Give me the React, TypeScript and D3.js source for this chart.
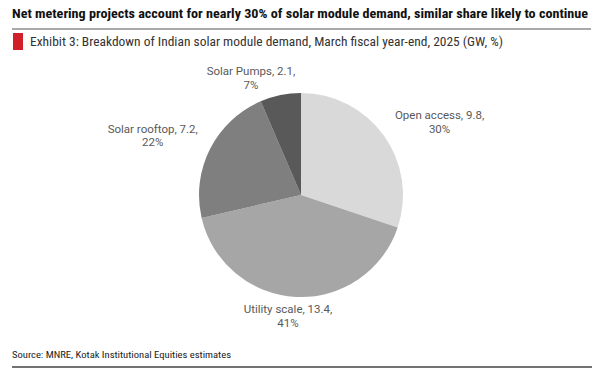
import React from "react";
import * as d3 from "d3";

const categories = ["Open access", "Utility scale", "Solar rooftop", "Solar Pumps"];
const values = [9.8, 13.4, 7.2, 2.1];
const shares = ["30%", "41%", "22%", "7%"];
const colors = ["#d9d9d9", "#a6a6a6", "#7f7f7f", "#595959"];
// label placement: distance from centre and angular nudge (layout only)
const labelRadius = [157, 121, 160, 128];
const labelAngleShift = [7.7, 3.4, -4.8, -11.4];

const W = 600;
const H = 377;
const cx = 301;
const cy = 195;
const R = 102;

export default function App() {
  const pie = d3.pie<number>().sort(null).value((d) => d)(values);
  const arc = d3.arc<d3.PieArcDatum<number>>().innerRadius(0).outerRadius(R);
  const font = "Roboto, 'Liberation Sans', Arial, sans-serif";
  const narrow = "'Liberation Sans Narrow', 'Roboto Condensed', Roboto, Arial, sans-serif";

  return (
    <svg width={W} height={H} style={{ position: "absolute", left: 0, top: 0, background: "#fff" }}>
      <text x={12} y={18} fontFamily={narrow} fontWeight="bold" fontSize={13.5} fill="#111"
        textLength={576} lengthAdjust="spacingAndGlyphs">
        Net metering projects account for nearly 30% of solar module demand, similar share likely to continue
      </text>
      <line x1={12} x2={591} y1={29} y2={29} stroke="#555" strokeWidth={1} />
      <rect x={13} y={33} width={10} height={17} fill="#d0202a" />
      <text x={30} y={46} fontFamily={narrow} fontSize={13} fill="#333"
        textLength={473} lengthAdjust="spacingAndGlyphs">
        Exhibit 3: Breakdown of Indian solar module demand, March fiscal year-end, 2025 (GW, %)
      </text>

      <g transform={`translate(${cx},${cy})`}>
        {pie.map((p, i) => (
          <path key={i} d={arc(p) || ""} fill={colors[i]} />
        ))}
        {pie.map((p, i) => {
          const mid = (p.startAngle + p.endAngle) / 2 + (labelAngleShift[i] * Math.PI) / 180;
          const x = Math.sin(mid) * labelRadius[i];
          const y = -Math.cos(mid) * labelRadius[i];
          return (
            <text key={"l" + i} x={x} y={y} textAnchor="middle" fontFamily={font} fontSize={11.5} fill="#595959">
              <tspan x={x} dy={-2}>{`${categories[i]}, ${values[i]},`}</tspan>
              <tspan x={x} dy={13.5}>{shares[i]}</tspan>
            </text>
          );
        })}
      </g>

      <text x={12} y={358} fontFamily={narrow} fontSize={9.5} fill="#222"
        textLength={219} lengthAdjust="spacingAndGlyphs">
        Source: MNRE, Kotak Institutional Equities estimates
      </text>
      <line x1={12} x2={592} y1={367} y2={367} stroke="#444" strokeWidth={1.5} />
    </svg>
  );
}
